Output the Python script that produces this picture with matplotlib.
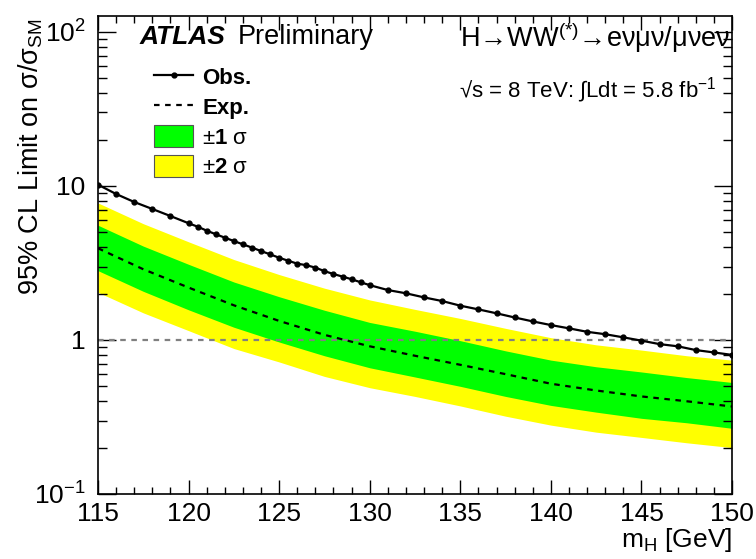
import matplotlib
matplotlib.use('Agg')
import matplotlib.pyplot as plt
from matplotlib.lines import Line2D
from matplotlib.patches import Patch
from matplotlib.ticker import MultipleLocator, FixedLocator, NullFormatter
import numpy as np

plt.rcParams['font.family'] = ['Liberation Sans', 'DejaVu Sans']
plt.rcParams['mathtext.fontset'] = 'custom'
plt.rcParams['mathtext.rm'] = 'Liberation Sans'
plt.rcParams['mathtext.it'] = 'Liberation Sans:italic'
plt.rcParams['mathtext.bf'] = 'Liberation Sans:bold'

obs_mass = [115, 116, 117, 118, 119, 120, 120.5, 121, 121.5, 122, 122.5, 123,
            123.5, 124, 124.5, 125, 125.5, 126, 126.5, 127, 127.5, 128, 128.5,
            129, 129.5, 130, 131, 132, 133, 134, 135, 136, 137, 138, 139, 140,
            141, 142, 143, 144, 145, 146, 147, 148, 149, 150]
obs_limit = [10.2, 8.87, 7.87, 7.09, 6.38, 5.73, 5.44, 5.13, 4.86, 4.62, 4.39, 4.18,
             3.98, 3.78, 3.60, 3.42, 3.27, 3.13, 3.06, 2.95, 2.80, 2.68, 2.58,
             2.48, 2.37, 2.27, 2.11, 2.01, 1.89, 1.79, 1.67, 1.58, 1.49, 1.40, 1.32, 1.25,
             1.19, 1.13, 1.09, 1.04, 0.99, 0.94, 0.91, 0.86, 0.83, 0.80]

# expected limit and bands
exp_mass = [115, 117.5, 120, 122.5, 125, 127.5, 130, 132.5, 135, 137.5, 140,
            142.5, 145, 147.5, 150]
exp_limit = [3.94, 2.88, 2.19, 1.68, 1.33, 1.08, 0.91, 0.79, 0.69, 0.60, 0.52,
             0.47, 0.43, 0.40, 0.37]
exp_p2 = [7.76, 5.69, 4.34, 3.33, 2.66, 2.17, 1.82, 1.58, 1.38, 1.19, 1.035,
          0.93, 0.86, 0.79, 0.74]
exp_p1 = [5.56, 4.07, 3.10, 2.38, 1.91, 1.56, 1.30, 1.14, 0.99, 0.85, 0.74,
          0.67, 0.62, 0.57, 0.53]
exp_m1 = [2.82, 2.07, 1.57, 1.21, 0.97, 0.79, 0.66, 0.575, 0.50, 0.43, 0.376,
          0.34, 0.31, 0.29, 0.267]
exp_m2 = [2.04, 1.50, 1.15, 0.88, 0.72, 0.58, 0.49, 0.43, 0.373, 0.32, 0.28,
          0.252, 0.233, 0.215, 0.20]

fig = plt.figure(figsize=(7.56, 5.59), dpi=100)
ax = fig.add_axes([0.1296, 0.1163, 0.9683 - 0.1296, 0.9714 - 0.1163])

ax.fill_between(exp_mass, exp_m2, exp_p2, color='#ffff00', lw=0)
ax.fill_between(exp_mass, exp_m1, exp_p1, color='#00ff00', lw=0)
ax.axhline(1, color='#808080', ls=(0, (2.5, 2.5)), lw=1.6)
ax.plot(exp_mass, exp_limit, color='black', ls=(0, (2.5, 2.5)), lw=1.6)
ax.plot(obs_mass, obs_limit, color='black', lw=1.6, marker='o', ms=3.5)

ax.set_yscale('log')
ax.set_xlim(115, 150)
ax.set_ylim(0.1, 127)

ax.xaxis.set_major_locator(MultipleLocator(5))
ax.xaxis.set_minor_locator(MultipleLocator(1))
ax.yaxis.set_major_locator(FixedLocator([0.1, 1, 10, 100]))
ax.set_yticklabels(['10$^{-1}$', '1', '10', '10$^{2}$'])
ax.yaxis.set_minor_formatter(NullFormatter())
ax.tick_params(which='both', direction='in', top=True, right=True, width=1.0,
               labelsize=19)
ax.tick_params(axis='x', which='major', length=10, pad=6)
ax.tick_params(axis='x', which='minor', length=5)
ax.tick_params(axis='y', which='major', length=13, pad=9)
ax.tick_params(axis='y', which='minor', length=6.5)
for s in ax.spines.values():
    s.set_linewidth(1.2)

ax.set_ylabel('95% CL Limit on σ/σ$_{\\rm SM}$', fontsize=19.5, loc='top')
ax.yaxis.set_label_coords(-0.084, 0.995)
ax.set_xlabel('m$_{\\rm H}$ [GeV]', fontsize=19, loc='right', labelpad=0)

ax.text(0.065, 0.955, 'ATLAS', transform=ax.transAxes, fontsize=19,
        fontweight='bold', fontstyle='italic', va='center')
ax.text(0.221, 0.955, 'Preliminary', transform=ax.transAxes, fontsize=19.5,
        va='center')
ax.text(0.997, 0.955, 'H→WW$^{(*)}$→eνμν/μνeν', transform=ax.transAxes,
        fontsize=19.5, va='center', ha='right')
ax.text(0.975, 0.845, '√s = 8 TeV: ∫Ldt = 5.8 fb$^{-1}$', transform=ax.transAxes,
        fontsize=16, va='center', ha='right')

handles = [
    Line2D([], [], color='black', lw=1.6, marker='o', ms=3.5),
    Line2D([], [], color='black', lw=1.6, ls=(0, (2.5, 2.5))),
    Patch(facecolor='#00ff00', edgecolor='#555555', lw=0.8),
    Patch(facecolor='#ffff00', edgecolor='#555555', lw=0.8),
]
labels = ['Obs.', 'Exp.', '±$\\mathbf{1}$ σ', '±$\\mathbf{2}$ σ']
leg = ax.legend(handles, labels, loc='upper left', bbox_to_anchor=(0.075, 0.915),
                frameon=False, fontsize=16, handlelength=1.75, handleheight=1.15,
                labelspacing=0.28, handletextpad=0.4, borderaxespad=0)
for t in leg.get_texts()[:2]:
    t.set_fontweight('bold')

fig.savefig('out.png', dpi=100)
